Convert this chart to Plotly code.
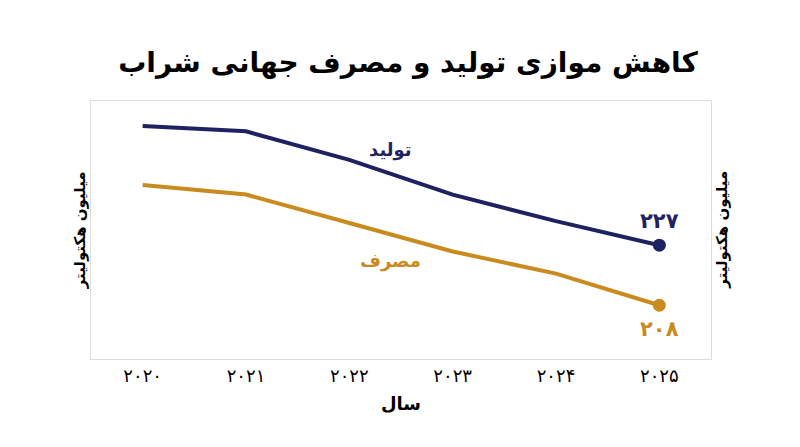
import plotly.graph_objects as go

years = [2020, 2021, 2022, 2023, 2024, 2025]
year_labels = ["۲۰۲۰", "۲۰۲۱", "۲۰۲۲", "۲۰۲۳", "۲۰۲۴", "۲۰۲۵"]
production = [264.7, 263, 254, 243, 234.6, 227]
consumption = [246, 243, 234, 225, 218, 208]

navy = "#1f2260"
gold = "#c98a1e"
font = "DejaVu Sans"

fig = go.Figure()
fig.add_trace(go.Scatter(x=years, y=production, mode="lines", line=dict(color=navy, width=4)))
fig.add_trace(go.Scatter(x=years, y=consumption, mode="lines", line=dict(color=gold, width=4)))
fig.add_trace(go.Scatter(x=[years[-1]], y=[production[-1]], mode="markers",
                         marker=dict(color=navy, size=13)))
fig.add_trace(go.Scatter(x=[years[-1]], y=[consumption[-1]], mode="markers",
                         marker=dict(color=gold, size=13)))

annots = [
    dict(x=2022.4, y=257, text="<b>تولید</b>", font=dict(color=navy, size=18)),
    dict(x=2022.4, y=222, text="<b>مصرف</b>", font=dict(color=gold, size=18)),
    dict(x=2025, y=234.5, text="<b>۲۲۷</b>", font=dict(color=navy, size=21)),
    dict(x=2025, y=200.5, text="<b>۲۰۸</b>", font=dict(color=gold, size=21)),
]
for a in annots:
    fig.add_annotation(xref="x", yref="y", showarrow=False, **a)
for xp in [-0.035, 1.035]:
    fig.add_annotation(xref="paper", yref="paper", x=xp, y=0.5, textangle=-90,
                       showarrow=False, text="<b>میلیون هکتولیتر</b>",
                       font=dict(size=15, color="black"))

fig.update_layout(
    width=800, height=447,
    margin=dict(l=83, r=97, t=93, b=96),
    paper_bgcolor="white", plot_bgcolor="white",
    showlegend=False,
    font=dict(family=font, color="black"),
    title=dict(text="<b>کاهش موازی تولید و مصرف جهانی شراب</b>", x=0.5, y=0.9,
               xanchor="center", font=dict(size=28, color="black")),
    xaxis=dict(range=[2019.5, 2025.5], tickvals=years, ticktext=year_labels,
               tickfont=dict(size=18), showgrid=False, zeroline=False,
               showline=True, mirror=True, linecolor="#dddddd", ticks="",
               title=dict(text="<b>سال</b>", font=dict(size=18), standoff=12)),
    yaxis=dict(range=[191, 272.6], showticklabels=False, showgrid=False, zeroline=False,
               showline=True, mirror=True, linecolor="#dddddd", ticks=""),
)
fig.update_xaxes(tickprefix="<b>", ticksuffix="</b>")

fig.write_html("out.html")
